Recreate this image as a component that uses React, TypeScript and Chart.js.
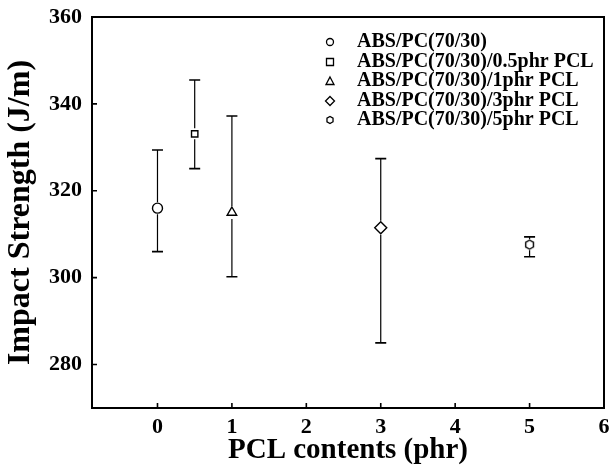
import React, { useEffect, useRef } from "react";
import { Chart, registerables } from "chart.js";

Chart.register(...registerables);

const seriesLabels = [
  "ABS/PC(70/30)",
  "ABS/PC(70/30)/0.5phr PCL",
  "ABS/PC(70/30)/1phr PCL",
  "ABS/PC(70/30)/3phr PCL",
  "ABS/PC(70/30)/5phr PCL",
];
const pclContents = [0, 0.5, 1, 3, 5];
const impactMean = [316.0, 333.1, 315.0, 311.5, 307.6];
const errorHigh = [329.4, 345.5, 337.2, 327.4, 309.4];
const errorLow = [306.0, 325.1, 300.2, 285.0, 304.8];
const xTicks = [0, 1, 2, 3, 4, 5, 6];
const yTicks = [280, 300, 320, 340, 360];

const FONT = "'Liberation Serif', 'DejaVu Serif', serif";

function makeHexagon(r: number): HTMLCanvasElement {
  const c = document.createElement("canvas");
  const s = Math.ceil(r * 2 + 4);
  c.width = s;
  c.height = s;
  const g = c.getContext("2d")!;
  g.strokeStyle = "#000";
  g.lineWidth = 1.4;
  g.beginPath();
  for (let i = 0; i < 6; i++) {
    const a = Math.PI / 6 + (i * Math.PI) / 3;
    const x = s / 2 + r * Math.cos(a);
    const y = s / 2 + r * Math.sin(a);
    if (i === 0) g.moveTo(x, y);
    else g.lineTo(x, y);
  }
  g.closePath();
  g.stroke();
  return c;
}

export default function App() {
  const ref = useRef<HTMLCanvasElement>(null);

  useEffect(() => {
    document.body.style.margin = "0";
    const hex = makeHexagon(4.5);
    const styles: any[] = ["circle", "rect", "triangle", "rectRot", hex];
    const radii = [5, 4.5, 5.5, 6, 4.5];

    const errorBars = {
      id: "errorBars",
      afterDatasetsDraw(chart: any) {
        const { ctx, scales } = chart;
        const xs = scales.x;
        const ys = scales.y;
        ctx.save();
        ctx.strokeStyle = "#000";
        for (let i = 0; i < pclContents.length; i++) {
          const px = xs.getPixelForValue(pclContents[i]);
          const pm = ys.getPixelForValue(impactMean[i]);
          const ph = ys.getPixelForValue(errorHigh[i]);
          const pl = ys.getPixelForValue(errorLow[i]);
          const r = radii[i] + 1;
          ctx.lineWidth = 1.2;
          ctx.beginPath();
          if (ph < pm - r) {
            ctx.moveTo(px, ph);
            ctx.lineTo(px, pm - r);
          }
          if (pl > pm + r) {
            ctx.moveTo(px, pm + r);
            ctx.lineTo(px, pl);
          }
          ctx.stroke();
          ctx.lineWidth = 1.6;
          ctx.beginPath();
          ctx.moveTo(px - 5.5, ph);
          ctx.lineTo(px + 5.5, ph);
          ctx.moveTo(px - 5.5, pl);
          ctx.lineTo(px + 5.5, pl);
          ctx.stroke();
        }
        ctx.restore();
      },
      afterDraw(chart: any) {
        const { ctx, chartArea, scales } = chart;
        const { left, right, top, bottom } = chartArea;
        ctx.save();
        ctx.strokeStyle = "#000";
        ctx.lineWidth = 2;
        ctx.strokeRect(left, top, right - left, bottom - top);
        ctx.lineWidth = 1.6;
        ctx.beginPath();
        for (const v of xTicks) {
          const px = scales.x.getPixelForValue(v);
          ctx.moveTo(px, bottom);
          ctx.lineTo(px, bottom - 5);
        }
        for (const v of yTicks) {
          const py = scales.y.getPixelForValue(v);
          ctx.moveTo(left, py);
          ctx.lineTo(left + 5, py);
        }
        ctx.stroke();
        // legend
        const lx = 330;
        const tx = 357;
        const rowY = [42, 62, 81, 101, 120];
        ctx.font = `bold 20px ${FONT}`;
        ctx.fillStyle = "#000";
        ctx.textBaseline = "middle";
        ctx.textAlign = "left";
        ctx.lineWidth = 1.3;
        for (let i = 0; i < seriesLabels.length; i++) {
          const y = rowY[i];
          const r = 3.5;
          ctx.beginPath();
          if (i === 0) {
            ctx.arc(lx, y, r, 0, Math.PI * 2);
          } else if (i === 1) {
            ctx.rect(lx - r, y - r, 2 * r, 2 * r);
          } else if (i === 2) {
            ctx.moveTo(lx, y - r - 0.5);
            ctx.lineTo(lx + r + 0.5, y + r);
            ctx.lineTo(lx - r - 0.5, y + r);
            ctx.closePath();
          } else if (i === 3) {
            ctx.moveTo(lx, y - r - 1);
            ctx.lineTo(lx + r + 1, y);
            ctx.lineTo(lx, y + r + 1);
            ctx.lineTo(lx - r - 1, y);
            ctx.closePath();
          } else {
            for (let k = 0; k < 6; k++) {
              const a = Math.PI / 6 + (k * Math.PI) / 3;
              const xx = lx + r * Math.cos(a);
              const yy = y + r * Math.sin(a);
              if (k === 0) ctx.moveTo(xx, yy);
              else ctx.lineTo(xx, yy);
            }
            ctx.closePath();
          }
          ctx.stroke();
          ctx.fillText(seriesLabels[i], tx, y);
        }
        ctx.restore();
      },
    };

    const datasets = seriesLabels.map((label, i) => ({
      label,
      data: [{ x: pclContents[i], y: impactMean[i] }],
      pointStyle: styles[i],
      pointRadius: radii[i],
      pointBorderColor: "#000",
      pointBackgroundColor: "rgba(255,255,255,1)",
      pointBorderWidth: 1.4,
      showLine: false,
    }));

    const hiddenGrid = {
      display: true,
      drawOnChartArea: false,
      drawTicks: true,
      tickLength: 9,
      color: "rgba(0,0,0,0)",
    };

    const chart = new Chart(ref.current!, {
      type: "scatter",
      data: { datasets },
      plugins: [errorBars],
      options: {
        animation: false,
        responsive: false,
        layout: { padding: { top: 17, right: 11, left: 0, bottom: 0 } },
        plugins: { legend: { display: false }, tooltip: { enabled: false } },
        scales: {
          x: {
            type: "linear",
            min: -0.88,
            max: 6,
            afterBuildTicks: (s: any) => {
              s.ticks = xTicks.map((v) => ({ value: v }));
            },
            afterFit: (s: any) => {
              s.height = 60;
            },
            grid: { ...hiddenGrid, tickLength: 6 },
            border: { display: false },
            ticks: {
              color: "#000",
              padding: 0,
              font: { family: FONT, size: 22, weight: "bold" },
              callback: (v: any) => String(v),
            },
            title: {
              display: true,
              text: "PCL contents (phr)",
              color: "#000",
              font: { family: FONT, size: 29, weight: "bold" },
              padding: { top: 0, bottom: 0 },
            },
          },
          y: {
            type: "linear",
            min: 270,
            max: 360,
            afterBuildTicks: (s: any) => {
              s.ticks = yTicks.map((v) => ({ value: v }));
            },
            afterFit: (s: any) => {
              s.width = 92;
            },
            grid: { ...hiddenGrid, tickLength: 10 },
            border: { display: false },
            ticks: {
              color: "#000",
              padding: 0,
              font: { family: FONT, size: 22, weight: "bold" },
              callback: (v: any) => String(v),
            },
            title: {
              display: true,
              text: "Impact Strength (J/m)",
              color: "#000",
              font: { family: FONT, size: 32, weight: "bold" },
              padding: { top: 2, bottom: 4 },
            },
          },
        },
      },
    } as any);
    return () => chart.destroy();
  }, []);

  return (
    <div style={{ width: 615, height: 468 }}>
      <canvas ref={ref} width={615} height={468} style={{ display: "block" }} />
    </div>
  );
}
